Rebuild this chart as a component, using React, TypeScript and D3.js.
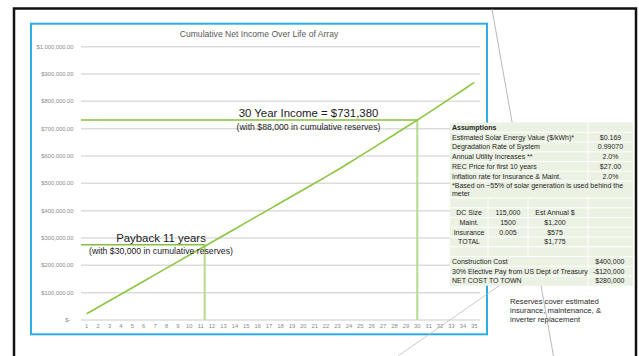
import React from "react";
import * as d3 from "d3";

const years = [1, 2, 3, 4, 5, 6, 7, 8, 9, 10, 11, 12, 13, 14, 15, 16, 17, 18, 19, 20, 21, 22, 23, 24, 25, 26, 27, 28, 29, 30, 31, 32, 33, 34, 35];
const cumulativeIncome = [
  23000, 46800, 70600, 94400, 118200, 142000, 165900, 189800, 213700, 237600,
  261500, 285400, 309300, 333200, 357100, 381000, 404900, 428800, 452700, 476600,
  500500, 524500, 549000, 574500, 600300, 626300, 652500, 678800, 705300, 731400,
  758800, 786300, 813900, 841600, 869500,
];
const yTicks = [0, 100000, 200000, 300000, 400000, 500000, 600000, 700000, 800000, 900000, 1000000];
const chartTitle = "Cumulative Net Income Over Life of Array";

const annotationYears = [11.35, 30];
const annotationValues = [275000, 731380];
const annotationTitles = ["Payback 11 years", "30 Year Income = $731,380"];
const annotationSubs = ["(with $30,000 in cumulative reserves)", "(with $88,000 in cumulative reserves)"];

const assumptionLabels = [
  "Estimated Solar Energy Value ($/kWh)*",
  "Degradation Rate of System",
  "Annual Utility Increases **",
  "REC Price for first 10 years",
  "Inflation rate for Insurance & Maint.",
];
const assumptionValues = ["$0.169", "0.99070", "2.0%", "$27.00", "2.0%"];
const noteLines = ["*Based on ~55% of solar generation is used behind the", "meter"];
const omRows = [
  ["DC Size", "115,000", "Est Annual $"],
  ["Maint.", "1500", "$1,200"],
  ["Insurance", "0.005", "$575"],
  ["TOTAL", "", "$1,775"],
];
const costLabels = ["Construction Cost", "30% Elective Pay from US Dept of Treasury", "NET COST TO TOWN"];
const costValues = ["$400,000", "-$120,000", "$280,000"];
const reservesNote = ["Reserves cover estimated", "insurance, maintenance, &", "inverter replacement"];

const FONT = "'Liberation Sans', Arial, sans-serif";

export default function App() {
  const W = 639;
  const H = 356;
  const plotL = 81;
  const plotR = 480;
  const y0 = 320;
  const y1 = 46.7;

  const x = d3.scaleBand<number>().domain(years).range([plotL, plotR]).padding(0);
  const step = x.step();
  const xc = (yr: number) => (x(yr) as number) + step / 2;
  const xYear = d3.scaleLinear().domain([1, 35]).range([xc(1), xc(35)]);
  const y = d3.scaleLinear().domain([0, 1000000]).range([y0, y1]);

  const line = d3
    .line<number>()
    .x((_, i) => xc(years[i]))
    .y((d) => y(d));

  const fmt = (v: number) => (v === 0 ? "$-" : "$" + d3.format(",.2f")(v));

  const lineGreen = "#8dc63f";
  const hGreen = "#86c03a";
  const vGreen = "#b6d98c";

  const annTextX = [161, 308.5];

  const tL = 450;
  const tR = 633;
  const tTop = 122.5;
  const rh = 9.75;
  const c1 = 488;
  const c2 = 528;
  const c3 = 588;
  const tableBg = "#ecf2e3";
  const fs = 7.0;
  const tColor = "#1e1e1e";

  const rowTops: number[] = [];
  let cur = tTop;
  const heights = [rh, rh, rh, rh, rh, rh, 17, rh, rh, rh, rh, rh, rh, rh, rh, rh];
  heights.forEach((h) => {
    rowTops.push(cur);
    cur += h;
  });
  const tBottom = cur;
  const mid = (i: number) => rowTops[i] + heights[i] / 2 + 2.5;

  return (
    <svg
      width={W}
      height={H}
      style={{ position: "fixed", left: 0, top: 0, background: "#fff" }}
      fontFamily={FONT}
    >
      <rect x={14} y={8.5} width={622} height={360} fill="#fff" stroke="#111" strokeWidth={2.5} />

      <rect x={31} y={23.7} width={456} height={310.6} fill="#fff" stroke="#2cade4" strokeWidth={2} />

      <text x={259} y={37} textAnchor="middle" fontSize={8.6} fill="#595959">
        {chartTitle}
      </text>

      {yTicks.map((t) => (
        <g key={t}>
          <line x1={plotL} x2={plotR} y1={y(t)} y2={y(t)} stroke="#dcdcdc" strokeWidth={1.5} />
          <text
            x={t === 0 ? 70.5 : 73.5}
            y={y(t) + 2}
            textAnchor="end"
            fontSize={5.8}
            fill="#8a8a8a"
          >
            {fmt(t)}
          </text>
        </g>
      ))}

      {years.map((yr) => (
        <text key={yr} x={xc(yr)} y={328} textAnchor="middle" fontSize={5.8} fill="#8a8a8a">
          {yr}
        </text>
      ))}

      {annotationYears.map((yr, i) => (
        <g key={"ann" + i}>
          <line x1={xYear(yr)} x2={xYear(yr)} y1={y(annotationValues[i])} y2={y0} stroke={vGreen} strokeWidth={2} />
          <line x1={plotL} x2={xYear(yr)} y1={y(annotationValues[i])} y2={y(annotationValues[i])} stroke={hGreen} strokeWidth={1.5} />
        </g>
      ))}

      <path d={line(cumulativeIncome) || ""} fill="none" stroke={lineGreen} strokeWidth={1.6} />

      {annotationYears.map((yr, i) => (
        <g key={"annt" + i}>
          <text x={annTextX[i]} y={y(annotationValues[i]) - 2.8} textAnchor="middle" fontSize={11.4} fill="#1a1a1a">
            {annotationTitles[i]}
          </text>
          <text x={annTextX[i]} y={y(annotationValues[i]) + 9.6} textAnchor="middle" fontSize={8.7} fill="#1a1a1a">
            {annotationSubs[i]}
          </text>
        </g>
      ))}

      <line x1={492} y1={9} x2={553.5} y2={356} stroke="#a6a6a6" strokeWidth={0.8} />
      <line x1={398} y1={356} x2={506} y2={281} stroke="#bdbdbd" strokeWidth={0.8} />

      <rect x={tL} y={tTop} width={tR - tL} height={tBottom - tTop} fill={tableBg} />
      {rowTops.slice(1).map((t, i) => (
        <line key={"hr" + i} x1={tL} x2={tR} y1={t} y2={t} stroke="#fff" strokeWidth={1} />
      ))}
      {[0, 1, 2, 3, 4, 5].map((r) => (
        <line key={"v1" + r} x1={c3} x2={c3} y1={rowTops[r]} y2={rowTops[r] + heights[r]} stroke="#fff" strokeWidth={1} />
      ))}
      {[7, 8, 9, 10, 11, 12].map((r) => (
        <g key={"v2" + r}>
          <line x1={c1} x2={c1} y1={rowTops[r]} y2={rowTops[r] + heights[r]} stroke="#fff" strokeWidth={1} />
          <line x1={c2} x2={c2} y1={rowTops[r]} y2={rowTops[r] + heights[r]} stroke="#fff" strokeWidth={1} />
          <line x1={c3} x2={c3} y1={rowTops[r]} y2={rowTops[r] + heights[r]} stroke="#fff" strokeWidth={1} />
        </g>
      ))}
      {[13, 14, 15].map((r) => (
        <line key={"v3" + r} x1={c3} x2={c3} y1={rowTops[r]} y2={rowTops[r] + heights[r]} stroke="#fff" strokeWidth={1} />
      ))}

      <g fontSize={fs} fill={tColor}>
        <text x={452} y={mid(0)} fontWeight="bold">
          Assumptions
        </text>
        {assumptionLabels.map((l, i) => (
          <g key={"as" + i}>
            <text x={452} y={mid(i + 1)}>
              {l}
            </text>
            <text x={610.5} y={mid(i + 1)} textAnchor="middle">
              {assumptionValues[i]}
            </text>
          </g>
        ))}
        {noteLines.map((l, i) => (
          <text key={"n" + i} x={452} y={rowTops[6] + 6.9 + i * 7.8}>
            {l}
          </text>
        ))}
        {omRows.map((r, i) => (
          <g key={"om" + i}>
            <text x={469} y={mid(8 + i)} textAnchor="middle">
              {r[0]}
            </text>
            <text x={508} y={mid(8 + i)} textAnchor="middle">
              {r[1]}
            </text>
            <text x={555} y={mid(8 + i)} textAnchor="middle">
              {r[2]}
            </text>
          </g>
        ))}
        {costLabels.map((l, i) => (
          <g key={"c" + i}>
            <text x={452} y={mid(13 + i)}>
              {l}
            </text>
            <text x={624.5} y={mid(13 + i)} textAnchor="end">
              {costValues[i]}
            </text>
          </g>
        ))}
      </g>

      {reservesNote.map((l, i) => (
        <text key={"r" + i} x={510} y={303.8 + i * 9.2} fontSize={7.7} fill="#2a2a2a">
          {l}
        </text>
      ))}
    </svg>
  );
}
